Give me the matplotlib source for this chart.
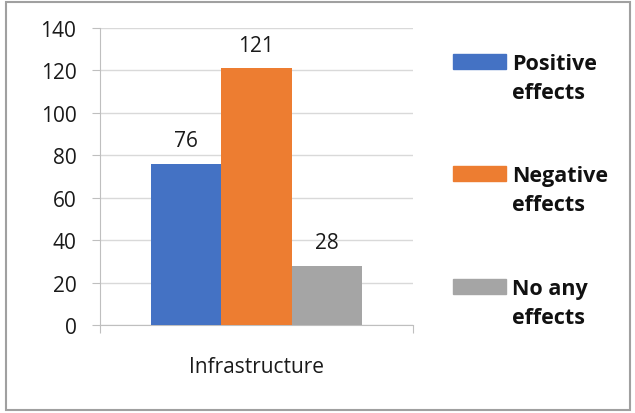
import matplotlib.pyplot as plt
from matplotlib.patches import Rectangle
import numpy as np

plt.rcParams['font.family'] = ['Open Sans', 'DejaVu Sans']

categories = ["Infrastructure"]
series_names = ["Positive\neffects", "Negative\neffects", "No any\neffects"]
series_values = [[76], [121], [28]]
series_colors = ["#4472c4", "#ed7d31", "#a5a5a5"]
y_ticks = [0, 20, 40, 60, 80, 100, 120, 140]

W, H = 635, 414
fig = plt.figure(figsize=(W / 100, H / 100), dpi=100)
ax = fig.add_axes([100 / W, 1 - 326 / H, 313 / W, 297 / H])

bar_w = 0.224
x = np.arange(len(categories))
for i, (vals, col) in enumerate(zip(series_values, series_colors)):
    pos = x + (i - 1) * bar_w
    ax.bar(pos, vals, bar_w, color=col, zorder=3)
    for p, v in zip(pos, vals):
        ax.annotate(str(v), (p, v), xytext=(0, 9), textcoords="offset points",
                    ha="center", va="bottom", fontsize=15, color="#1a1a1a")

ax.set_xlim(-0.5, 0.5)
ax.set_ylim(0, 140)
ax.set_yticks(y_ticks)
ax.tick_params(axis='y', length=6, color="#bfbfbf", labelsize=15, pad=11,
               labelcolor="#1a1a1a")
ax.yaxis.grid(True, color="#d9d9d9", linewidth=1, zorder=0)
ax.set_xticks([-0.5, 0.5])
ax.set_xticklabels([])
ax.tick_params(axis='x', length=6, color="#bfbfbf")
for s in ["top", "right"]:
    ax.spines[s].set_visible(False)
ax.spines["left"].set_color("#bfbfbf")
ax.spines["bottom"].set_color("#bfbfbf")
ax.text(0, -0.14, categories[0], transform=ax.get_xaxis_transform(),
        ha="center", va="center", fontsize=15, color="#1a1a1a")

# legend drawn by hand so the swatch lines up with the first text line
leg_y = [62, 174, 287]
for name, col, y in zip(series_names, series_colors, leg_y):
    fig.patches.append(Rectangle((453 / W, 1 - (y + 8) / H), 53 / W, 15 / H,
                                 color=col, transform=fig.transFigure))
    fig.text(512 / W, 1 - (y - 8) / H, name, fontsize=15.5, fontweight="bold",
             va="top", ha="left", linespacing=1.5, color="#111111")

fig.patches.append(Rectangle((6 / W, 3 / H), 624 / W, 408 / H, fill=False,
                             edgecolor="#a0a0a0", linewidth=1.5,
                             transform=fig.transFigure))

fig.savefig("out.png", dpi=100)
